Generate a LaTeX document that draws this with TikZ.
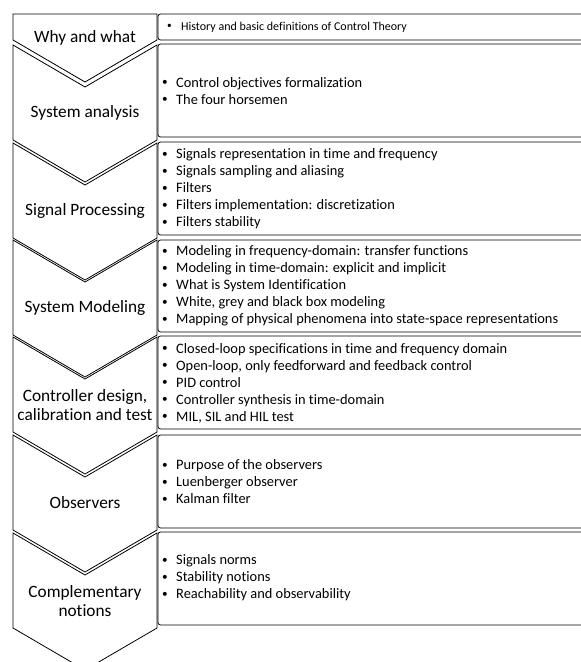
\documentclass[tikz,border=0pt]{standalone}
\usepackage{fontspec}
\setmainfont{Carlito}[Ligatures=CommonOff]
\newcommand{\bul}[1]{\makebox[15pt][l]{\hspace{1pt}\raisebox{0.12em}{\scalebox{0.78}{\textbullet}}}#1}
\begin{document}
\begin{tikzpicture}[x=1pt,y=-1pt,
    chev/.style={draw=black, line width=0.8pt, line join=miter, fill=white},
    itembox/.style={draw=black, line width=0.8pt, rounded corners=2.5pt, fill=white},
    chevtext/.style={align=center, inner sep=0pt, font=\fontsize{17.3}{19.5}\selectfont},
    items/.style={align=left, anchor=west, inner sep=0pt, font=\fontsize{14.4}{17}\selectfont},
    smallitems/.style={align=left, anchor=west, inner sep=0pt, font=\fontsize{12}{14}\selectfont}]
    \useasboundingbox (0,0) rectangle (581,662);
    \clip (0,0) rectangle (581,662);

    % chevrons on the left
    \draw[chev] (13,14) -- (157,14) -- (157,40) -- (85,82) -- (13,40) -- cycle;
    \draw[chev] (13,45) -- (85,87) -- (157,45) -- (157,140) -- (85,182) -- (13,140) -- cycle;
    \draw[chev] (13,143) -- (85,185) -- (157,143) -- (157,238) -- (85,280) -- (13,238) -- cycle;
    \draw[chev] (13,240) -- (85,282) -- (157,240) -- (157,335) -- (85,377) -- (13,335) -- cycle;
    \draw[chev] (13,337) -- (85,379) -- (157,337) -- (157,432) -- (85,474) -- (13,432) -- cycle;
    \draw[chev] (13,435) -- (85,477) -- (157,435) -- (157,530) -- (85,572) -- (13,530) -- cycle;
    \draw[chev] (13,533) -- (85,575) -- (157,533) -- (157,628) -- (85,670) -- (13,628) -- cycle;

    % boxes on the right
    \draw[itembox] (158,14) rectangle (595,40);
    \draw[itembox] (158,44) rectangle (595,137);
    \draw[itembox] (158,142) rectangle (595,235);
    \draw[itembox] (158,240) rectangle (595,332);
    \draw[itembox] (158,336) rectangle (595,429);
    \draw[itembox] (158,435) rectangle (595,528);
    \draw[itembox] (158,532) rectangle (595,625);

    \node[chevtext] (why) at (85,38) {Why and what};
    \node[chevtext] (analysis) at (85,113) {System analysis};
    \node[chevtext] (signal) at (85,211) {Signal Processing};
    \node[chevtext] (modeling) at (85,308) {System Modeling};
    \node[chevtext] (controller) at (85,405) {Controller design,\\calibration and test};
    \node[chevtext] (observers) at (85,503) {Observers};
    \node[chevtext] (complementary) at (85,601) {Complementary\\notions};

    \node[smallitems] (whyitems) at (166,27) {\bul{History and basic definitions of Control Theory}};
    \node[items] (analysisitems) at (161,91) {\bul{Control objectives formalization}\\
        \bul{The four horsemen}};
    \node[items] (signalitems) at (161,189) {\bul{Signals representation in time and frequency}\\
        \bul{Signals sampling and aliasing}\\
        \bul{Filters}\\
        \bul{Filters implementation: discretization}\\
        \bul{Filters stability}};
    \node[items] (modelingitems) at (161,286) {\bul{Modeling in frequency-domain: transfer functions}\\
        \bul{Modeling in time-domain: explicit and implicit}\\
        \bul{What is System Identification}\\
        \bul{White, grey and black box modeling}\\
        \bul{Mapping of physical phenomena into state-space representations}};
    \node[items] (controlleritems) at (161,383) {\bul{Closed-loop specifications in time and frequency domain}\\
        \bul{Open-loop, only feedforward and feedback control}\\
        \bul{PID control}\\
        \bul{Controller synthesis in time-domain}\\
        \bul{MIL, SIL and HIL test}};
    \node[items] (observeritems) at (161,482) {\bul{Purpose of the observers}\\
        \bul{Luenberger observer}\\
        \bul{Kalman filter}};
    \node[items] (complementaryitems) at (161,578) {\bul{Signals norms}\\
        \bul{Stability notions}\\
        \bul{Reachability and observability}};
\end{tikzpicture}
\end{document}
